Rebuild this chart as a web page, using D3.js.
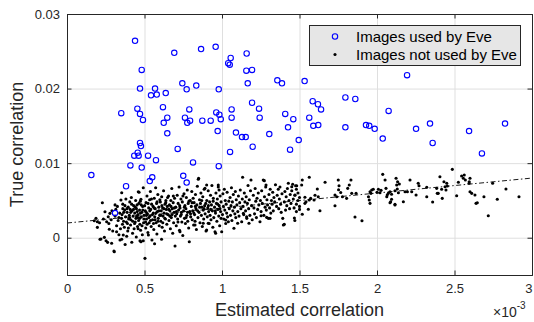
<!DOCTYPE html>
<html>
<head>
<meta charset="utf-8">
<script src="https://cdn.jsdelivr.net/npm/d3@7"></script>
<style>
  body { margin: 0; background: #fff; }
  svg { display: block; font-family: "Liberation Sans", Arial, sans-serif; }
</style>
</head>
<body>
<div id="chart"></div>
<script>
// both coordinates in units of 1e-3: [estimated, true]
const usedPts = [
  [0.157,8.4],[0.310,3.3],[0.350,16.7],[0.381,6.9],[0.409,9.7],[0.434,11.0],[0.439,26.4],[0.454,17.3],
  [0.456,11.4],[0.462,11.0],[0.471,20.0],[0.471,16.6],[0.471,12.7],[0.477,12.3],[0.482,22.5],[0.482,9.4],
  [0.490,15.8],[0.523,11.0],[0.534,7.6],[0.542,19.1],[0.550,8.1],[0.568,20.0],[0.574,10.4],[0.579,19.2],
  [0.619,17.5],[0.624,15.4],[0.637,19.4],[0.647,16.1],[0.647,14.0],[0.692,24.8],[0.714,11.9],[0.744,20.7],
  [0.750,8.3],[0.761,16.1],[0.772,19.9],[0.772,7.4],[0.776,15.4],[0.789,17.2],[0.794,15.7],[0.813,10.1],
  [0.834,20.4],[0.865,25.3],[0.873,15.7],[0.927,15.7],[0.959,25.6],[0.963,16.8],[0.972,14.3],[0.979,19.9],
  [0.979,9.6],[0.983,16.5],[0.992,15.9],[1.040,23.4],[1.050,23.2],[1.052,11.5],[1.056,24.1],[1.062,17.2],
  [1.062,16.1],[1.090,14.1],[1.129,13.5],[1.153,13.5],[1.157,22.4],[1.159,24.7],[1.166,20.7],[1.194,22.5],
  [1.194,18.1],[1.198,12.2],[1.239,17.3],[1.243,16.1],[1.305,13.9],[1.357,21.1],[1.387,20.7],[1.408,16.6],
  [1.426,14.8],[1.439,11.8],[1.460,15.9],[1.495,13.1],[1.533,21.0],[1.563,16.1],[1.585,18.3],[1.589,15.0],
  [1.619,17.9],[1.621,15.1],[1.639,17.2],[1.796,18.8],[1.796,14.8],[1.860,18.6],[1.929,15.1],[1.950,15.0],
  [1.985,14.6],[2.037,13.3],[2.075,17.0],[2.194,21.8],[2.252,14.6],[2.342,15.3],[2.359,12.7],[2.594,14.3],
  [2.677,11.3],[2.826,15.3]
];

const otherPts = [
  [0.176,2.28],[0.187,2.60],[0.196,2.15],[0.196,1.39],[0.213,-0.21],[0.219,-0.17],[0.228,4.69],[0.241,0.05],
  [0.245,3.49],[0.252,-0.40],[0.256,2.15],[0.262,-0.62],[0.266,2.82],[0.273,1.13],[0.277,3.27],[0.288,-0.75],
  [0.295,0.90],[0.303,-1.78],[0.285,2.4],[0.27,1.9],[0.29,3.6],[0.21,2.0],[0.235,2.5],
  [0.305,-1.88],[0.31,2.9],[0.315,3.8],[0.32,1.6],[0.325,4.2],[0.33,2.3],[0.335,0.4],[0.34,3.3],[0.345,1.2],
  [0.31,4.4],[0.32,0.8],[0.335,2.7],[0.348,5.06],[0.342,-0.3],
  [0.353,6.03],[0.353,-0.21],[0.363,0.36],[0.355,3.1],[0.36,4.5],[0.365,2.2],[0.37,1.4],[0.372,3.7],[0.378,2.8],
  [0.38,5.2],[0.385,0.2],[0.388,3.4],[0.39,1.9],[0.395,4.1],[0.398,2.5],[0.36,3.9],[0.375,-0.9],[0.392,0.9],
  [0.402,3.0],[0.405,4.8],[0.41,1.7],[0.412,2.4],[0.415,5.4],[0.42,3.6],[0.423,0.6],[0.427,2.9],[0.43,4.3],
  [0.433,1.2],[0.437,3.3],[0.44,2.1],[0.443,5.0],[0.447,0.1],[0.448,3.9],[0.418,-0.6],[0.445,2.6],[0.408,3.8],
  [0.452,4.4],[0.455,1.5],[0.458,3.1],[0.46,6.17],[0.462,2.3],[0.465,6.09],[0.468,3.7],[0.471,-0.40],[0.473,4.9],
  [0.475,1.0],[0.477,5.15],[0.477,-0.54],[0.48,2.8],[0.483,3.4],[0.486,0.4],[0.488,4.2],[0.492,6.71],[0.492,-0.40],
  [0.494,2.0],[0.497,3.0],[0.455,2.7],[0.47,1.8],
  [0.503,-2.77],[0.505,3.6],[0.508,1.3],[0.51,4.7],[0.513,2.5],[0.516,5.6],[0.519,3.2],[0.522,0.7],[0.525,0.36],
  [0.527,4.0],[0.53,2.0],[0.533,5.1],[0.536,2.9],[0.54,3.8],[0.543,1.5],[0.546,4.5],[0.548,-0.3],[0.512,3.0],[0.538,6.2],
  [0.552,2.4],[0.555,4.2],[0.557,3.3],[0.56,1.1],[0.563,5.3],[0.566,2.8],[0.569,3.9],[0.572,6.71],[0.575,2.0],
  [0.578,4.6],[0.58,0.5],[0.583,3.5],[0.586,5.8],[0.589,2.6],[0.592,4.1],[0.595,1.6],[0.598,3.0],[0.565,-0.8],
  [0.602,4.8],[0.605,2.2],[0.608,3.6],[0.611,5.5],[0.614,1.4],[0.617,4.0],[0.62,2.9],[0.623,6.3],[0.626,3.3],
  [0.629,0.9],[0.632,4.5],[0.635,2.5],[0.638,5.0],[0.641,3.8],[0.644,1.8],[0.647,4.2],[0.61,-0.2],
  [0.652,3.1],[0.655,5.6],[0.658,2.3],[0.661,4.4],[0.664,3.6],[0.667,1.2],[0.67,5.0],[0.673,2.7],[0.676,6.6],
  [0.679,3.9],[0.682,0.6],[0.685,4.7],[0.688,2.0],[0.691,3.4],[0.694,5.3],[0.697,-1.11],[0.699,2.9],
  [0.702,4.1],[0.705,1.6],[0.708,3.2],[0.711,5.7],[0.714,2.5],[0.717,4.6],[0.72,3.7],[0.723,6.8],[0.726,1.0],
  [0.729,4.0],[0.732,2.9],[0.735,5.2],[0.738,3.4],[0.741,2.1],[0.744,4.8],[0.747,0.3],[0.729,0.80],
  [0.752,3.6],[0.755,5.9],[0.758,2.6],[0.761,4.3],[0.764,1.9],[0.767,3.9],[0.77,5.4],[0.773,3.0],[0.776,6.4],
  [0.779,2.2],[0.782,4.6],[0.785,1.3],[0.789,-0.54],[0.792,3.5],[0.795,5.0],[0.798,2.8],
  [0.802,4.2],[0.805,6.2],[0.808,2.4],[0.811,3.6],[0.814,5.3],[0.817,1.7],[0.82,4.7],[0.823,3.1],[0.826,2.2],
  [0.829,5.8],[0.832,3.9],[0.835,1.1],[0.838,4.4],[0.841,6.9],[0.845,2.7],[0.849,7.97],[0.847,7.83],[0.826,1.70],
  [0.852,3.4],[0.855,5.1],[0.858,2.0],[0.861,4.6],[0.864,6.0],[0.867,3.0],[0.87,4.1],[0.873,1.5],[0.876,5.5],
  [0.879,3.7],[0.882,2.5],[0.885,6.5],[0.888,4.3],[0.891,3.2],[0.897,0.90],[0.879,1.93],[0.890,6.62],
  [0.902,5.0],[0.905,2.8],[0.908,4.0],[0.911,6.3],[0.914,3.5],[0.917,1.9],[0.92,4.8],[0.923,3.0],[0.926,5.7],
  [0.929,2.4],[0.932,4.4],[0.935,7.0],[0.938,3.6],[0.941,1.4],[0.944,5.3],[0.947,2.7],[0.911,1.93],[0.901,1.03],[0.901,7.07],
  [0.952,4.1],[0.955,0.80],[0.958,3.3],[0.961,6.0],[0.964,4.6],[0.967,2.2],[0.97,5.2],[0.973,3.8],[0.976,6.8],
  [0.979,2.9],[0.982,4.3],[0.985,1.6],[0.988,5.6],[0.991,3.5],[0.994,4.8],[0.998,0.80],[0.959,0.59],[0.994,2.60],
  [0.976,7.07],[0.981,6.40],
  [1.003,3.1],[1.006,5.9],[1.009,4.2],[1.012,2.5],[1.015,6.5],[1.018,3.7],[1.021,5.0],[1.024,1.9],[1.027,4.5],
  [1.03,3.3],[1.033,6.1],[1.036,2.8],[1.041,2.15],[1.044,4.9],[1.047,3.9],[1.024,2.37],
  [1.052,5.4],[1.055,3.0],[1.058,4.3],[1.061,6.7],[1.064,2.3],[1.067,4.8],[1.07,3.6],[1.073,5.8],[1.077,1.26],
  [1.08,4.1],[1.083,3.2],[1.086,6.2],[1.089,2.7],[1.092,5.1],[1.096,4.4],[1.101,1.93],
  [1.102,3.5],[1.106,5.6],[1.11,2.9],[1.114,4.7],[1.118,6.4],[1.122,3.9],[1.127,2.15],[1.131,5.2],[1.133,8.10],
  [1.136,4.2],[1.14,3.1],[1.144,6.0],[1.148,4.8],[1.138,3.27],
  [1.152,3.6],[1.156,5.5],[1.16,2.6],[1.164,4.6],[1.168,7.0],[1.172,3.9],[1.176,5.1],[1.18,3.0],[1.184,6.3],
  [1.187,7.74],[1.191,4.3],[1.195,2.4],[1.174,1.93],[1.159,2.82],
  [1.202,5.7],[1.206,4.0],[1.21,3.2],[1.214,6.6],[1.218,4.9],[1.222,2.7],[1.226,5.3],[1.23,3.8],[1.234,6.0],
  [1.238,4.4],[1.245,2.15],[1.248,5.0],
  [1.252,3.5],[1.256,6.3],[1.26,4.6],[1.266,7.74],[1.27,3.0],[1.274,5.5],[1.278,4.1],[1.282,6.8],[1.286,3.7],
  [1.29,5.1],[1.294,4.4],[1.299,2.60],[1.273,7.65],[1.284,7.07],[1.288,2.73],[1.252,2.95],
  [1.303,5.8],[1.307,4.0],[1.311,6.5],[1.315,3.3],[1.319,5.0],[1.323,4.5],[1.327,6.1],[1.331,3.6],[1.335,5.4],
  [1.34,4.8],[1.345,7.1],[1.310,2.60],
  [1.352,4.2],[1.356,5.7],[1.363,6.49],[1.366,3.9],[1.37,5.2],[1.374,6.8],[1.378,4.5],[1.382,3.4],[1.387,5.9],
  [1.392,2.60],[1.396,1.70],[1.402,1.79],
  [1.402,4.8],[1.406,6.2],[1.41,3.7],[1.414,5.5],[1.418,4.3],[1.422,6.6],[1.428,7.30],[1.432,5.0],[1.436,3.9],
  [1.44,5.8],[1.445,4.6],[1.45,6.3],[1.456,7.16],[1.46,5.2],[1.465,4.0],[1.467,2.64],[1.47,5.7],[1.450,6.84],
  [1.475,6.97],[1.471,5.73],
  [1.48,6.50],[1.49,6.0],[1.50,5.4],[1.49,5.0],[1.48,4.5],[1.50,4.2],[1.50,3.8],[1.48,3.5],[1.47,2.3],[1.482,6.97],
  [1.514,7.07],[1.518,7.74],[1.518,3.14],[1.535,5.42],[1.535,4.61],[1.542,4.83],[1.557,3.81],[1.563,8.10],
  [1.563,5.06],[1.594,5.06],[1.572,5.3],[1.60,5.7],[1.615,6.53],[1.621,5.50],[1.632,3.62],[1.665,7.43],
  [1.729,4.29],[1.729,5.73],[1.740,5.50],[1.750,7.74],[1.755,6.97],[1.752,6.43],[1.766,6.07],[1.777,5.50],
  [1.804,5.28],[1.811,6.62],[1.821,7.07],[1.832,7.74],[1.837,5.95],[1.865,5.95],[1.858,2.78],[1.903,2.28],
  [1.950,5.06],[1.955,4.61],[1.961,5.95],[1.966,6.40],[1.976,6.49],[1.945,5.5],[1.955,6.17],[2.0,6.1],[2.026,6.35],
  [2.009,6.49],[2.019,6.03],[2.037,8.50],[2.052,7.74],[2.063,5.50],[2.073,5.95],[2.084,6.17],[2.088,4.83],
  [2.058,6.62],[2.094,5.82],[2.066,5.73],[2.084,4.69],[2.094,5.15],[2.116,4.39],
  [2.116,4.48],[2.123,7.97],[2.127,7.07],[2.131,6.53],[2.116,6.30],[2.144,7.20],[2.133,7.51],[2.138,6.03],
  [2.170,4.83],[2.181,6.17],[2.196,6.17],[2.213,7.74],[2.224,6.17],[2.252,5.73],[2.266,7.30],[2.271,6.97],
  [2.321,5.50],[2.321,6.76],[2.359,4.79],[2.385,6.62],[2.389,5.95],[2.395,5.95],[2.406,8.18],[2.417,6.49],
  [2.421,5.28],[2.432,7.51],[2.439,6.84],[2.450,7.30],[2.445,6.40],[2.454,6.93],[2.486,9.17],[2.514,5.63],
  [2.525,7.43],[2.546,8.27],[2.563,8.40],[2.557,7.97],[2.570,7.74],[2.595,7.51],[2.600,7.97],[2.594,7.30],
  [2.600,6.17],[2.611,5.95],[2.632,5.73],[2.639,4.61],[2.647,4.69],[2.690,5.50],[2.718,2.95],[2.746,7.30],
  [2.776,5.15],[2.832,6.53],[2.916,5.50],
  // the dense core, 0.35 - 1.0
  [0.352,2.6],[0.358,1.8],[0.366,3.4],[0.374,4.3],[0.383,2.1],[0.387,3.9],[0.396,1.3],[0.404,2.7],[0.411,3.4],
  [0.417,4.5],[0.424,2.2],[0.429,3.8],[0.436,1.9],[0.441,4.1],[0.449,2.9],[0.453,3.5],[0.459,1.2],[0.464,4.6],
  [0.469,2.6],[0.474,3.3],[0.479,4.4],[0.484,1.6],[0.489,3.7],[0.496,2.5],[0.501,4.3],[0.507,2.1],[0.511,3.4],
  [0.517,1.8],[0.523,4.6],[0.528,2.7],[0.534,3.6],[0.539,2.3],[0.545,5.2],[0.551,3.1],[0.558,1.9],[0.562,4.0],
  [0.568,2.4],[0.574,3.3],[0.581,4.8],[0.587,2.2],[0.593,3.6],[0.599,5.1],[0.606,3.0],[0.612,4.3],[0.618,2.0],
  [0.625,3.9],[0.631,2.6],[0.637,4.7],[0.643,3.2],[0.649,5.4],[0.657,3.8],[0.663,2.9],[0.671,4.2],[0.678,3.1],
  [0.686,5.6],[0.693,4.0],[0.706,3.5],[0.716,2.1],[0.727,4.3],[0.737,3.1],[0.748,5.6],[0.757,4.1],[0.768,2.7],
  [0.778,3.4],[0.787,4.9],[0.797,3.2],[0.807,4.7],[0.818,3.3],[0.828,4.2],[0.843,3.6],[0.856,4.1],[0.869,5.0],
  [0.884,3.9],[0.895,4.6],[0.912,4.3],[0.927,3.8],[0.943,4.9],[0.957,3.6],[0.972,4.5],[0.987,3.9]
];

const fitEnds = [[0, 1.97], [3, 8.0]];
const xTicks = [0, 0.5, 1, 1.5, 2, 2.5, 3];
const yTicks = [0, 10, 20, 30];
const legendLabels = ["Images used by Eve", "Images not used by Eve"];

const W = 534, H = 322;
const margin = { top: 14, right: 2, bottom: 47, left: 67 };
const width = W - margin.left - margin.right;
const height = H - margin.top - margin.bottom;
const axisColor = "#262626";

const svg = d3.select("#chart").append("svg")
  .attr("width", W)
  .attr("height", H);

const g = svg.append("g").attr("transform", `translate(${margin.left},${margin.top})`);

const x = d3.scaleLinear().domain([0, 3]).range([0, width]);
const y = d3.scaleLinear().domain([-5, 30]).range([height, 0]);

// grid
g.append("g")
  .attr("class", "grid")
  .attr("transform", `translate(0,${height})`)
  .call(d3.axisBottom(x).tickValues(xTicks).tickSize(-height).tickFormat(""));
g.append("g")
  .attr("class", "grid")
  .call(d3.axisLeft(y).tickValues(yTicks).tickSize(-width).tickFormat(""));
g.selectAll(".grid .domain").remove();

// points
g.append("g").selectAll("circle")
  .data(otherPts)
  .enter().append("circle")
  .attr("cx", d => x(d[0]))
  .attr("cy", d => y(d[1]))
  .attr("r", 1.55)
  .attr("fill", "#000");

g.append("g").selectAll("circle")
  .data(usedPts)
  .enter().append("circle")
  .attr("cx", d => x(d[0]))
  .attr("cy", d => y(d[1]))
  .attr("r", 2.7)
  .attr("fill", "none")
  .attr("stroke", "#0000ff")
  .attr("stroke-width", 1.1);

// fitted line (dash-dot)
g.append("path")
  .datum(fitEnds)
  .attr("d", d3.line().x(d => x(d[0])).y(d => y(d[1])))
  .attr("fill", "none")
  .attr("stroke", "#000")
  .attr("stroke-width", 0.9)
  .attr("stroke-dasharray", "5,2.5,1.5,2.5");

// axes, ticks pointing inward on all four sides
const tick = 4.5;
const xAxis = g.append("g")
  .attr("transform", `translate(0,${height})`)
  .call(d3.axisBottom(x).tickValues(xTicks).tickSize(-tick).tickPadding(9).tickFormat(d => String(d)));
const yAxis = g.append("g")
  .call(d3.axisLeft(y).tickValues(yTicks).tickSize(-tick).tickPadding(7)
    .tickFormat(d => d === 0 ? "0" : String(d / 1000)));
g.append("g")
  .call(d3.axisTop(x).tickValues(xTicks).tickSize(-tick).tickFormat(""));
g.append("g")
  .attr("transform", `translate(${width},0)`)
  .call(d3.axisRight(y).tickValues(yTicks).tickSize(-tick).tickFormat(""));

g.selectAll(".domain, .tick line").attr("stroke", axisColor);
g.selectAll(".grid line").attr("stroke", "#dfdfdf").attr("stroke-width", 1);
xAxis.selectAll("text").attr("font-size", 13).attr("fill", axisColor).attr("font-family", null);
yAxis.selectAll("text").attr("font-size", 13).attr("fill", axisColor).attr("font-family", null);
// last label sits on the figure edge, keep it inside
xAxis.selectAll(".tick text").filter(d => d === 3).attr("text-anchor", "end").attr("dx", 0);

// axis labels
svg.append("text")
  .attr("x", margin.left + width / 2)
  .attr("y", 316)
  .attr("text-anchor", "middle")
  .attr("font-size", 18)
  .attr("fill", axisColor)
  .text("Estimated correlation");

svg.append("text")
  .attr("transform", `translate(23,${margin.top + height / 2}) rotate(-90)`)
  .attr("text-anchor", "middle")
  .attr("font-size", 18)
  .attr("fill", axisColor)
  .text("True correlation");

// x10^-3 multiplier
const mult = svg.append("text")
  .attr("x", 493)
  .attr("y", 317)
  .attr("font-size", 14)
  .attr("fill", axisColor);
mult.append("tspan").text("\u00d710");
mult.append("tspan").attr("font-size", 10).attr("dy", -8).text("-3");

// legend
const lg = svg.append("g").attr("transform", "translate(309.5,25.5)");
lg.append("rect")
  .attr("width", 211)
  .attr("height", 40)
  .attr("fill", "#e6e6e6")
  .attr("stroke", axisColor)
  .attr("stroke-width", 1);

lg.append("circle")
  .attr("cx", 25.5).attr("cy", 11)
  .attr("r", 2.7)
  .attr("fill", "none")
  .attr("stroke", "#0000ff")
  .attr("stroke-width", 1.1);
lg.append("circle")
  .attr("cx", 25.5).attr("cy", 29)
  .attr("r", 1.55)
  .attr("fill", "#000");

lg.selectAll(".lg-text")
  .data(legendLabels)
  .enter().append("text")
  .attr("class", "lg-text")
  .attr("x", 46.5)
  .attr("y", (d, i) => 11 + i * 18)
  .attr("dy", "0.35em")
  .attr("font-size", 15)
  .attr("fill", "#000")
  .text(d => d);
</script>
</body>
</html>
